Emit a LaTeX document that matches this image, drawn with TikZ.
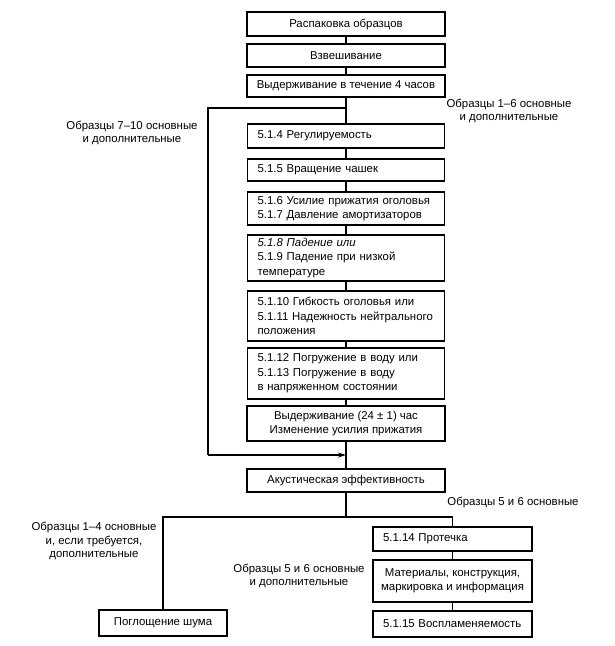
\documentclass[tikz,border=0pt]{standalone}
\usepackage{fontspec}
\setmainfont{Liberation Sans}
\usetikzlibrary{arrows.meta}
\begin{document}
\begin{tikzpicture}[x=1pt,y=-1pt,
  base/.style={draw, line width=1.4pt, font=\fontsize{11.4}{14.5}\selectfont},
  cbox/.style={base, inner sep=0pt, align=center},
  lbox/.style={base, inner xsep=10pt, inner ysep=0pt, text width=177pt, align=left},
  lbl/.style={font=\fontsize{11.4}{13.5}\selectfont, align=center, inner sep=0pt},
  conn/.style={line width=1.3pt}]
\useasboundingbox (0,0) rectangle (615,646);
% main column
\node[cbox, minimum width=198pt, minimum height=24pt] (b1) at (346,24) {Распаковка образцов};
\node[cbox, minimum width=198pt, minimum height=23pt] (b2) at (346,55.5) {Взвешивание};
\node[cbox, minimum width=198pt, minimum height=22pt] (b3) at (346,86) {Выдерживание в течение 4 часов};
\node[lbox, minimum height=24pt] (b4) at (346,136) {5.1.4 Регулируемость};
\node[lbox, minimum height=22pt] (b5) at (346,170) {5.1.5 Вращение чашек};
\node[lbox, minimum height=33pt] (b6) at (346,208.5) {5.1.6 Усилие прижатия оголовья\\5.1.7 Давление амортизаторов};
\node[lbox, minimum height=46pt] (b7) at (346,258) {{\itshape 5.1.8 Падение или}\\5.1.9 Падение при низкой\\температуре};
\node[lbox, minimum height=50pt] (b8) at (346,316) {5.1.10 Гибкость оголовья или\\5.1.11 Надежность нейтрального\\положения};
\node[lbox, minimum height=51pt] (b9) at (346,373.5) {5.1.12 Погружение в воду или\\5.1.13 Погружение в воду\\в напряженном состоянии};
\node[cbox, minimum width=198pt, minimum height=35pt] (b10) at (346,423.5) {Выдерживание (24 ± 1) час\\Изменение усилия прижатия};
\node[cbox, minimum width=198pt, minimum height=23pt] (b11) at (346,480.5) {Акустическая эффективность};
% bottom
\node[cbox, minimum width=128pt, minimum height=26pt] (b12) at (163,623) {Поглощение шума};
\node[lbox, text width=139pt, minimum height=24pt] (b13) at (452.5,539) {5.1.14 Протечка};
\node[cbox, minimum width=159pt, minimum height=42pt] (b14) at (452.5,581) {Материалы, конструкция,\\маркировка и информация};
\node[lbox, text width=139pt, minimum height=26pt] (b15) at (452.5,624) {5.1.15 Воспламеняемость};
% labels
\node[lbl] (t1) at (509,111) {Образцы 1–6 основные\\и дополнительные};
\node[lbl] (t2) at (132,133) {Образцы 7–10 основные\\и дополнительные};
\node[lbl] (t3) at (513,502) {Образцы 5 и 6 основные};
\node[lbl] (t4) at (94,541) {Образцы 1–4 основные\\и, если требуется,\\дополнительные};
\node[lbl] (t5) at (299,576) {Образцы 5 и 6 основные\\и дополнительные};
% connectors
\draw[conn] (b1) -- (b2);
\draw[conn] (b2) -- (b3);
\draw[conn] (b3) -- (b4);
\draw[conn] (b4) -- (b5);
\draw[conn] (b5) -- (b6);
\draw[conn] (b6) -- (b7);
\draw[conn] (b7) -- (b8);
\draw[conn] (b8) -- (b9);
\draw[conn] (b9) -- (b10);
\draw[conn] (b10) -- (b11);
\coordinate (br1) at (346,108);
\coordinate (lc1) at (208,108);
\coordinate (lc2) at (208,455);
\coordinate (m1) at (346,455);
\draw[conn] (br1) -- (lc1) -- (lc2);
\draw[conn, -{Stealth[length=8pt,width=5pt]}] (lc2) -- (m1);
\coordinate (br2) at (346,517);
\draw[conn] (b11.south) -- (br2);
\draw[conn] (b12.north) |- (br2) -| (b13.north);
\draw[conn] (b13) -- (b14);
\draw[conn] (b14) -- (b15);
\end{tikzpicture}
\end{document}
